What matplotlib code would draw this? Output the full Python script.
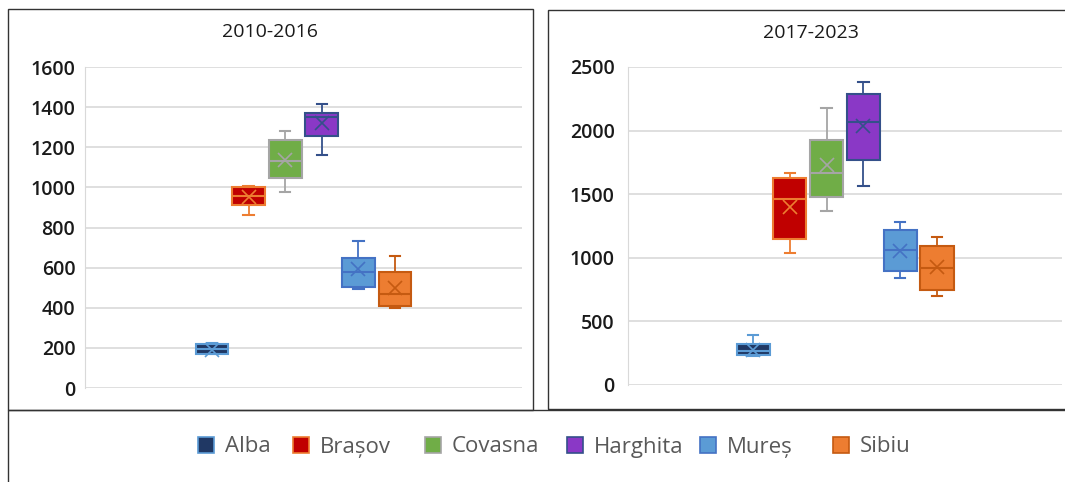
import matplotlib.pyplot as plt
from matplotlib.patches import Patch, Rectangle

plt.rcParams['font.family'] = ['Open Sans', 'DejaVu Sans']

judete = ["Alba", "Brașov", "Covasna", "Harghita", "Mureș", "Sibiu"]
fill_colors = ["#203864", "#C00000", "#70AD47", "#8A38C6", "#5B9BD5", "#ED7D31"]
edge_colors = ["#5B9BD5", "#ED7D31", "#A5A5A5", "#34508A", "#4472C4", "#C55A11"]

# 2010-2016: whisker low, q1, median, q3, whisker high, mean
p1_whislo = [168, 864, 978, 1161, 492, 397]
p1_q1 = [170, 913, 1048, 1257, 505, 409]
p1_med = [193, 957, 1131, 1352, 580, 467]
p1_q3 = [219, 1003, 1236, 1369, 649, 580]
p1_whishi = [226, 1008, 1281, 1414, 731, 658]
p1_mean = [190, 954, 1136, 1319, 593, 497]

# 2017-2023
p2_whislo = [230, 1040, 1368, 1567, 841, 700]
p2_q1 = [232, 1148, 1481, 1769, 899, 749]
p2_med = [267, 1460, 1669, 2068, 1061, 922]
p2_q3 = [320, 1630, 1926, 2288, 1219, 1093]
p2_whishi = [393, 1667, 2175, 2385, 1279, 1161]
p2_mean = [275, 1399, 1727, 2039, 1054, 930]

W, H = 1065, 482
fig = plt.figure(figsize=(W / 100, H / 100), dpi=100)


def draw_panel(rect, lo, q1, med, q3, hi, mean, ymax, yticks, half):
    ax = fig.add_axes(rect)
    for i in range(len(judete)):
        st = [dict(whislo=lo[i], q1=q1[i], med=med[i], q3=q3[i], whishi=hi[i],
                   mean=mean[i], fliers=[])]
        ec = edge_colors[i]
        ax.bxp(st, positions=[i + 1], widths=0.9, capwidths=0.28,
               patch_artist=True, showmeans=True, showfliers=False,
               boxprops=dict(facecolor=fill_colors[i], edgecolor=ec, linewidth=1.5),
               medianprops=dict(color=ec, linewidth=1.5),
               whiskerprops=dict(color=ec, linewidth=1.3),
               capprops=dict(color=ec, linewidth=1.5),
               meanprops=dict(marker="x", markeredgecolor=ec, markersize=10,
                              markeredgewidth=1.2))
    ax.set_xlim(3.5 - half, 3.5 + half)
    ax.set_ylim(0, ymax)
    ax.set_yticks(yticks)
    ax.set_xticks([])
    ax.grid(axis="y", color="#D9D9D9", linewidth=1.2)
    ax.set_axisbelow(True)
    for s in ["top", "right", "bottom"]:
        ax.spines[s].set_visible(False)
    ax.spines["left"].set_color("#D9D9D9")
    ax.tick_params(axis="y", length=0, labelsize=14, colors="#1a1a1a")
    for t in ax.get_yticklabels():
        t.set_fontweight("semibold")
    return ax


ax1 = draw_panel([85 / W, 1 - 388 / H, 437 / W, 321 / H],
                 p1_whislo, p1_q1, p1_med, p1_q3, p1_whishi, p1_mean,
                 1600, range(0, 1601, 200), 5.97)
ax1.tick_params(axis="y", pad=7)
ax2 = draw_panel([628 / W, 1 - 385 / H, 434 / W, 318 / H],
                 p2_whislo, p2_q1, p2_med, p2_q3, p2_whishi, p2_mean,
                 2500, range(0, 2501, 500), 5.9)
ax2.tick_params(axis="y", pad=9.5)

# panel frames
def frame(x0, y0, x1, y1):
    fig.add_artist(Rectangle((x0 / W, 1 - y1 / H), (x1 - x0) / W, (y1 - y0) / H,
                             transform=fig.transFigure, fill=False,
                             edgecolor="#333333", linewidth=1.0))

frame(8, 9, 533, 410)
frame(548, 10, 1075, 409)
frame(8, 410, 1075, 490)

fig.text(270 / W, 1 - 32 / H, "2010-2016", ha="center", va="center",
         fontsize=14, color="#1a1a1a")
fig.text(811 / W, 1 - 33 / H, "2017-2023", ha="center", va="center",
         fontsize=14, color="#1a1a1a")

# legend entries, one per county, at the reference x positions
legend_x = [198, 293, 425, 567, 700, 833]
for i, name in enumerate(judete):
    h = Patch(facecolor=fill_colors[i], edgecolor=edge_colors[i], linewidth=1.2)
    fig.legend([h], [name], loc="center left",
               bbox_to_anchor=(legend_x[i] / W, 1 - 447 / H),
               frameon=False, fontsize=16, handlelength=0.7, handleheight=0.7,
               handletextpad=0.5, borderpad=0, borderaxespad=0,
               labelcolor="#595959")

fig.savefig("out.png", dpi=100)
